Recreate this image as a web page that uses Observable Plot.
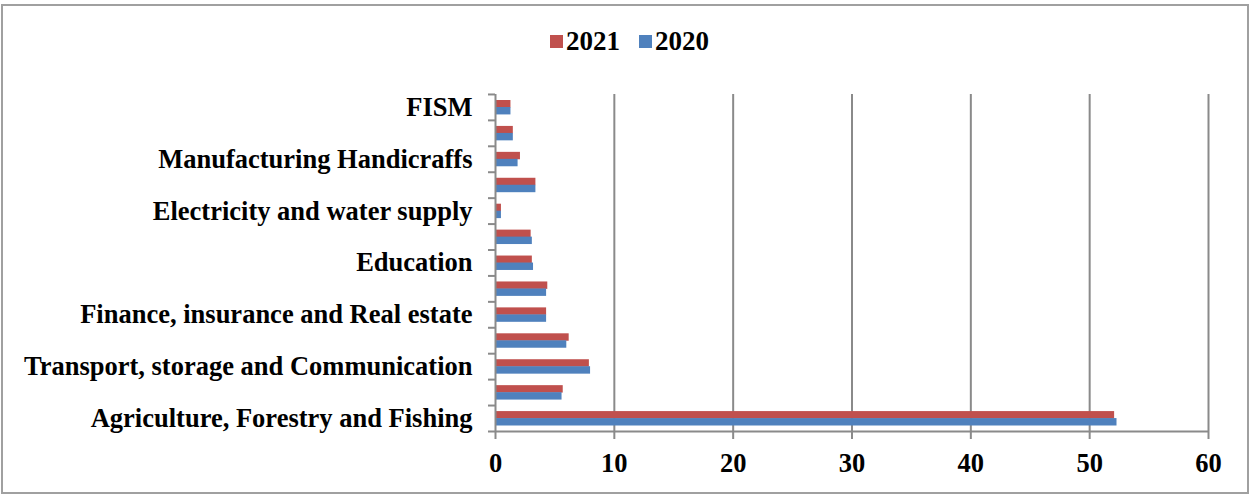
<!DOCTYPE html>
<html>
<head>
<meta charset="utf-8">
<script src="https://cdn.jsdelivr.net/npm/d3@7"></script>
<script src="https://cdn.jsdelivr.net/npm/@observablehq/plot@0.6"></script>
<style>
  html, body { margin: 0; padding: 0; background: #fff; }
  #wrap { position: relative; width: 1250px; height: 494px; overflow: hidden; font-family: "Liberation Serif", "Times New Roman", serif; font-weight: bold; }
  #border { position: absolute; left: 1px; top: 4px; width: 1244px; height: 486px; border: 2px solid #a0a0a0; }
  #legend { position: absolute; top: 26px; left: 550px; display: flex; align-items: center; font-size: 27px; line-height: 31px; color: #000; }
  .sw { display: inline-block; width: 13px; height: 13px; margin-right: 3px; }
  .item { display: flex; align-items: center; margin-right: 19px; }
  #chart { position: absolute; left: 0; top: 0; }
</style>
</head>
<body>
<div id="wrap">
  <div id="border"></div>
  <div id="legend"></div>
  <div id="chart"></div>
</div>
<script>
const categories = [
  "FISM",
  "Restaurants and Hotels",
  "Manufacturing Handicraffs",
  "Mining and Quarrying",
  "Electricity and water supply",
  "Health",
  "Education",
  "Public Administration",
  "Finance, insurance and Real estate",
  "Construction",
  "Transport, storage and Communication",
  "Wholesale and Retail Trade",
  "Agriculture, Forestry and Fishing"
];
const shownLabels = [
  "FISM",
  "Manufacturing Handicraffs",
  "Electricity and water supply",
  "Education",
  "Finance, insurance and Real estate",
  "Transport, storage and Communication",
  "Agriculture, Forestry and Fishing"
];
const values2021 = [1.3, 1.5, 2.1, 3.4, 0.5, 3.0, 3.1, 4.4, 4.3, 6.2, 7.9, 5.7, 52.1];
const values2020 = [1.3, 1.5, 1.9, 3.4, 0.5, 3.1, 3.2, 4.3, 4.3, 6.0, 8.0, 5.6, 52.3];
const series = ["2021", "2020"];
const colors = ["#C0504D", "#4F81BD"];
const xTicks = [0, 10, 20, 30, 40, 50, 60];

const d2021 = categories.map((c, i) => ({category: c, value: values2021[i]}));
const d2020 = categories.map((c, i) => ({category: c, value: values2020[i]}));

const legend = document.getElementById("legend");
series.forEach((s, i) => {
  const it = document.createElement("div");
  it.className = "item";
  it.innerHTML = `<span class="sw" style="background:${colors[i]}"></span><span>${s}</span>`;
  legend.appendChild(it);
});

const gray = "#8a8a8a";
const fs = 26.5;
const chart = Plot.plot({
  width: 1250,
  height: 494,
  marginLeft: 495,
  marginRight: 42,
  marginTop: 94,
  marginBottom: 63,
  style: {
    fontFamily: '"Liberation Serif", "Times New Roman", serif',
    fontWeight: "bold",
    fontSize: fs + "px",
    color: "#000",
    background: "transparent",
    overflow: "visible"
  },
  x: {domain: [0, 60]},
  y: {domain: categories, padding: 0, round: false},
  marks: [
    Plot.gridX(xTicks.slice(1), {stroke: gray, strokeOpacity: 1, strokeWidth: 2}),
    Plot.barX(d2021, {x: "value", y: "category", fill: colors[0], insetTop: 6, insetBottom: 12.5}),
    Plot.barX(d2020, {x: "value", y: "category", fill: colors[1], insetTop: 13, insetBottom: 5.5}),
    Plot.ruleX([0], {stroke: gray, strokeWidth: 2}),
    Plot.ruleY(categories, {y: d => d, dy: -13, x1: 0, x2: 0, insetLeft: -7, stroke: gray, strokeWidth: 2}),
    Plot.ruleY([categories[categories.length - 1]], {y: d => d, dy: 13, x1: 0, x2: 60, insetLeft: -7, stroke: gray, strokeWidth: 2}),
    Plot.axisX({ticks: xTicks, tickSize: 8, tickPadding: 14, stroke: gray, strokeWidth: 2, label: null, fontSize: fs}),
    Plot.axisY({tickSize: 0, tickPadding: 23, label: null, fontSize: fs,
      tickFormat: d => shownLabels.includes(d) ? d : ""})
  ]
});
document.getElementById("chart").appendChild(chart);
</script>
</body>
</html>
